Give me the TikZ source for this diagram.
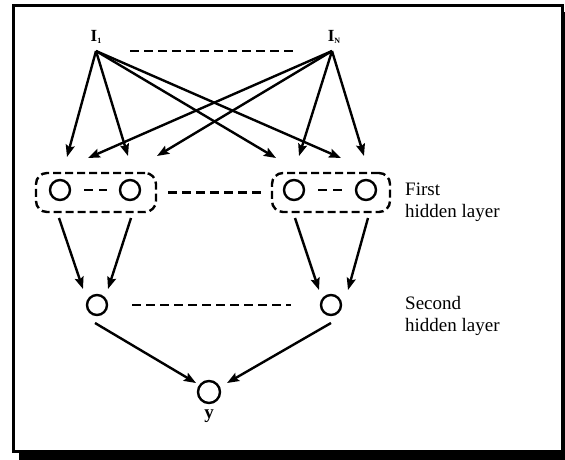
\documentclass[tikz,border=0pt]{standalone}
\usepackage{fontspec}
\setmainfont{Liberation Serif}
\usetikzlibrary{arrows.meta,calc}
\begin{document}
\begin{tikzpicture}[x=1pt,y=-1pt,
 neuron/.style={circle,draw,line width=2.4pt,minimum size=20pt,inner sep=0pt},
 grp/.style={draw,line width=2.4pt,rounded corners=11pt,dash pattern=on 8pt off 4pt,inner sep=0pt},
 dline/.style={line width=2.6pt,dash pattern=on 9pt off 5pt},
 arr/.style={line width=2.4pt,-{Stealth[length=12pt,width=9pt,inset=2pt]}},
 lbl/.style={font=\fontsize{19}{22}\selectfont,align=left,anchor=west,inner sep=0pt},
 inlbl/.style={font=\bfseries\fontsize{17}{17}\selectfont,inner sep=0pt}]
\useasboundingbox (0,0) rectangle (565,460);
% frame and shadow
\fill[black] (19,452.5) rectangle (565,460);
\fill[black] (563.5,12) rectangle (565,460);
\draw[line width=3pt] (13.5,5.5) rectangle (562,451);

% inputs
\node[inlbl] (I1) at (96,37) {I\raisebox{-2.5pt}{\fontsize{8}{8}\selectfont 1}};
\node[inlbl] (IN) at (334,37) {I\raisebox{-2.5pt}{\fontsize{8}{8}\selectfont N}};
\coordinate (i1) at (96,51);
\coordinate (iN) at (332,51);
\coordinate (dA) at (130,51);
\coordinate (dB) at (293,51);
\draw[dline] (dA) -- (dB);

% first hidden layer
\node[neuron] (h1) at (60,190) {};
\node[neuron] (h2) at (130,190) {};
\node[neuron] (h3) at (294,190) {};
\node[neuron] (h4) at (366,190) {};
\node[grp,minimum width=120pt,minimum height=39pt] (g1) at (96,192.5) {};
\node[grp,minimum width=118pt,minimum height=39pt] (g2) at (331,192.5) {};
\draw[dline,dash pattern=on 9pt off 6pt,shorten <=13pt,shorten >=12pt] (h1) -- (h2);
\draw[dline,dash pattern=on 9pt off 6pt,shorten <=13pt,shorten >=12pt] (h3) -- (h4);
\draw[dline,shorten <=11pt,shorten >=10pt] (g1.east) -- (g2.west);
\node[lbl] (L1) at (405,202.5) {First\\hidden layer};

% second hidden layer
\node[neuron] (s1) at (97,305) {};
\node[neuron] (s2) at (331,305) {};
\draw[dline,shorten <=24pt,shorten >=29pt] (s1) -- (s2);
\node[lbl] (L2) at (405,316) {Second\\hidden layer};

% output
\node[neuron,minimum size=22pt] (y) at (209,392) {};
\node[font=\bfseries\fontsize{19}{19}\selectfont,inner sep=0pt] (ylbl) at (209,416) {y};

% arrow tips / starts
\coordinate (t1) at (67,157);
\coordinate (t2) at (128,156);
\coordinate (t3) at (276,158);
\coordinate (t4) at (341,158);
\coordinate (u1) at (88,158);
\coordinate (u2) at (157,156);
\coordinate (u3) at (299,156);
\coordinate (u4) at (364,156);
\foreach \t in {t1,t2,t3,t4} \draw[arr] (i1) -- (\t);
\foreach \t in {u1,u2,u3,u4} \draw[arr] (iN) -- (\t);

\coordinate (a1) at (59,218);  \coordinate (b1) at (83,289);
\coordinate (a2) at (131,218); \coordinate (b2) at (108,289);
\coordinate (a3) at (295,218); \coordinate (b3) at (319,290);
\coordinate (a4) at (368,218); \coordinate (b4) at (348,290);
\draw[arr] (a1) -- (b1);
\draw[arr] (a2) -- (b2);
\draw[arr] (a3) -- (b3);
\draw[arr] (a4) -- (b4);

\coordinate (c1) at (95,323);  \coordinate (e1) at (196,383);
\coordinate (c2) at (331,323); \coordinate (e2) at (227,383);
\draw[arr] (c1) -- (e1);
\draw[arr] (c2) -- (e2);
\end{tikzpicture}
\end{document}
